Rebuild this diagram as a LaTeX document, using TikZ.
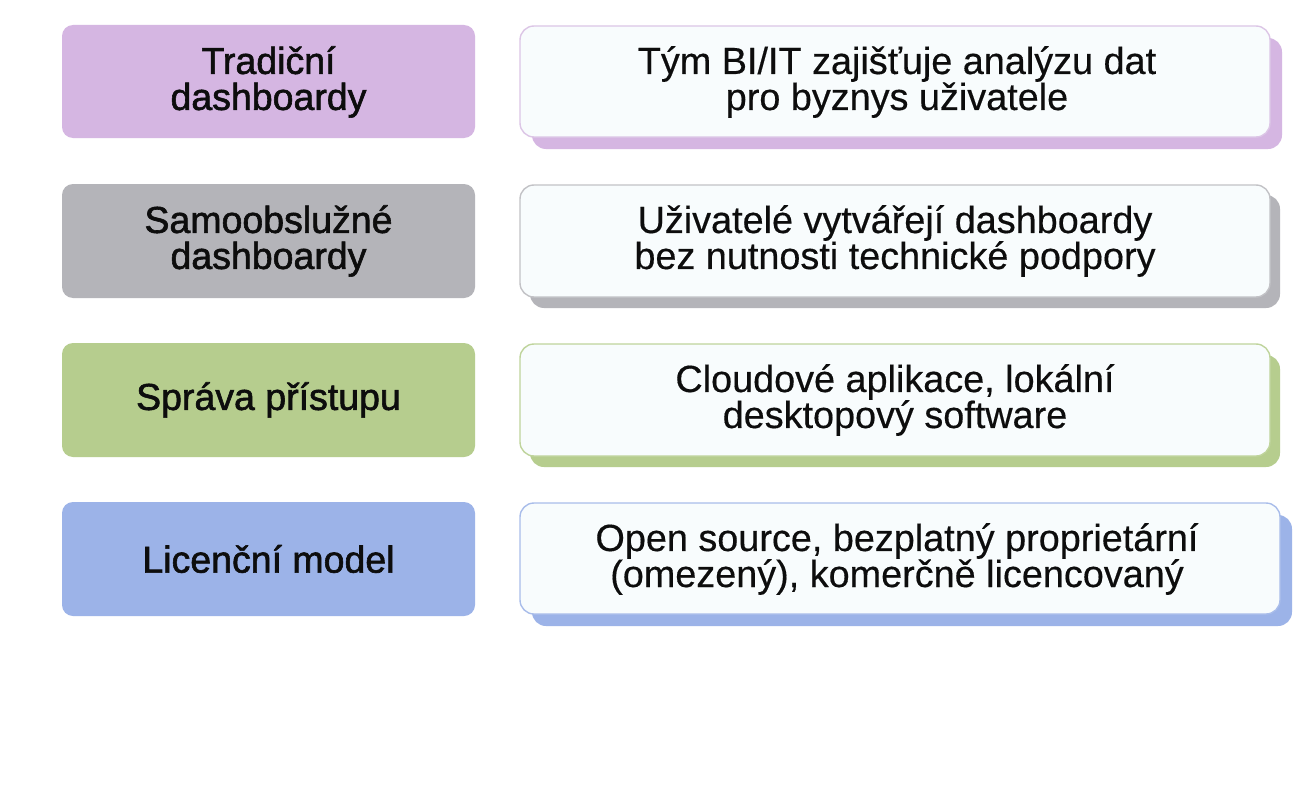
\documentclass[tikz,border=0pt]{standalone}
\usepackage{fontspec}
\setmainfont{Liberation Sans}
\newfontfamily\medfont{Liberation Sans}[FakeBold=1.6]
\newfontfamily\regfont{Liberation Sans}[FakeBold=0.4]
\definecolor{cpur}{HTML}{D5B6E2}
\definecolor{cgra}{HTML}{B4B4B9}
\definecolor{cgre}{HTML}{B6CD8E}
\definecolor{cblu}{HTML}{9CB3E8}
\definecolor{cpurl}{HTML}{DCC6E6}
\definecolor{cgral}{HTML}{C2C2C6}
\definecolor{cgrel}{HTML}{BFD49C}
\definecolor{cblul}{HTML}{A9BDEA}
\definecolor{rfill}{HTML}{F8FCFD}
\tikzset{
  x=1pt,y=-1pt,
  lbox/.style={rounded corners=11pt, inner sep=0pt},
  rbox/.style={rounded corners=14pt, fill=rfill, line width=1.4pt},
  ltext/.style={font=\medfont\fontsize{37.5}{36}\selectfont, align=center, text=black!95},
  rtext/.style={font=\regfont\fontsize{37.8}{36}\selectfont, align=center, text=black!95},
}
\begin{document}
\begin{tikzpicture}
\useasboundingbox[fill=white] (0,0) rectangle (1304,800);
% row 1
\fill[cpur,lbox] (62,25) rectangle (475,138);
\node[ltext] (l1) at (268.5,82) {Tradiční\\dashboardy};
\fill[cpur,rounded corners=14pt] (532,38) rectangle (1282,149);
\draw[rbox,draw=cpurl] (520,26) rectangle (1270,137);
\node[rtext] (r1) at (897,82) {Tým BI/IT zajišťuje analýzu dat\\pro byznys uživatele};
% row 2
\fill[cgra,lbox] (62,184) rectangle (475,298);
\node[ltext] (l2) at (268.5,241) {Samoobslužné\\dashboardy};
\fill[cgra,rounded corners=14pt] (530,195) rectangle (1280,308);
\draw[rbox,draw=cgral] (520,185) rectangle (1270,297);
\node[rtext] (r2) at (895,241) {Uživatelé vytvářejí dashboardy\\bez nutnosti technické podpory};
% row 3
\fill[cgre,lbox] (62,343) rectangle (475,457);
\node[ltext] (l3) at (268.5,400) {Správa přístupu};
\fill[cgre,rounded corners=14pt] (530,355) rectangle (1280,467);
\draw[rbox,draw=cgrel] (520,344) rectangle (1270,456);
\node[rtext] (r3) at (895,400) {Cloudové aplikace, lokální\\desktopový software};
% row 4
\fill[cblu,lbox] (62,502) rectangle (475,616);
\node[ltext] (l4) at (268.5,559) {Licenční model};
\fill[cblu,rounded corners=14pt] (532,515) rectangle (1292,626);
\draw[rbox,draw=cblul] (520,503) rectangle (1280,614);
\node[rtext] (r4) at (897,559) {Open source, bezplatný proprietární\\(omezený), komerčně licencovaný};
\end{tikzpicture}
\end{document}
